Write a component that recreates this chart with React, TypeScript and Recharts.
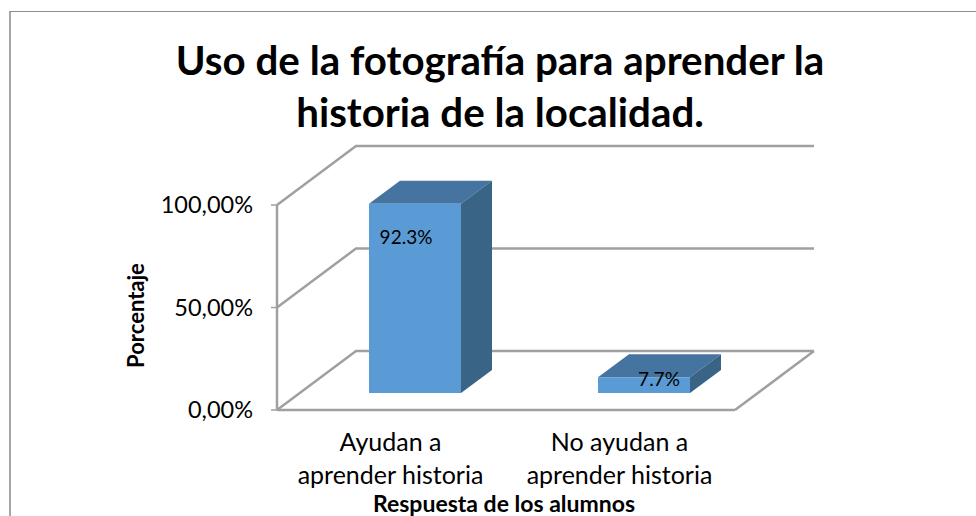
import { BarChart, Bar, XAxis, YAxis, CartesianGrid, LabelList } from "recharts";

const categories = ["Ayudan a aprender historia", "No ayudan a aprender historia"];
const shares = [0.923, 0.077];
const shareLabels = ["92.3%", "7.7%"];
const percentTicks = [0, 0.5, 1];

const data = categories.map((name, i) => ({ name, share: shares[i], label: shareLabels[i] }));

const FONT = "Lato, 'Open Sans', sans-serif";
const GREY = "#a0a0a0";
// fake 3D offsets, the walls go this far back and the bars sit halfway in
const WALL_DX = 79;
const WALL_DY = -59;
const BAR_DX = 23;
const BAR_DY = -17;
const DEPTH_DX = 31;
const DEPTH_DY = -23;
const LABEL_NUDGE = [
  { x: -9, y: 33 },
  { x: 15, y: 1 },
];

function Box3D(props: any) {
  const { x, y, width, height } = props;
  const left = x + BAR_DX;
  const right = left + width;
  const top = y + BAR_DY;
  const bottom = top + height;
  return (
    <g>
      <polygon
        points={`${left},${top} ${right},${top} ${right + DEPTH_DX},${top + DEPTH_DY} ${left + DEPTH_DX},${top + DEPTH_DY}`}
        fill="#44749f"
      />
      <polygon
        points={`${right},${top} ${right + DEPTH_DX},${top + DEPTH_DY} ${right + DEPTH_DX},${bottom + DEPTH_DY} ${right},${bottom}`}
        fill="#3a6485"
      />
      <rect x={left} y={top} width={width} height={height} fill="#5b9bd5" />
    </g>
  );
}

function WallLine(props: any) {
  const { x1, x2, y1 } = props;
  const isFloor = props.index === 0;
  return (
    <g fill="none" stroke={GREY} strokeWidth={2.5}>
      <polyline points={`${x1},${y1} ${x1 + WALL_DX},${y1 + WALL_DY} ${x2 + WALL_DX},${y1 + WALL_DY}`} />
      {isFloor && <line x1={x2} y1={y1} x2={x2 + WALL_DX} y2={y1 + WALL_DY} />}
    </g>
  );
}

function CategoryTick(props: any) {
  const { x, y, payload } = props;
  const cut = payload.value.indexOf(" aprender");
  return (
    <text x={x - 1} y={y} textAnchor="middle" fontFamily={FONT} fontSize={25} fill="#000">
      <tspan x={x - 1} dy={33}>{payload.value.slice(0, cut)}</tspan>
      <tspan x={x - 1} dy={33}>{payload.value.slice(cut + 1)}</tspan>
    </text>
  );
}

function ShareLabel(props: any) {
  const { x, y, width, value, index } = props;
  return (
    <text
      x={x + BAR_DX + width / 2 + LABEL_NUDGE[index].x}
      y={y + BAR_DY + LABEL_NUDGE[index].y}
      textAnchor="middle"
      dominantBaseline="central"
      fontFamily={FONT}
      fontSize={19}
      fill="#000"
    >
      {value}
    </text>
  );
}

const formatPercent = (v: number) => (v * 100).toFixed(2).replace(".", ",") + "%";

export default function App() {
  return (
    <div style={{ position: "absolute", left: 0, top: 0, width: 976, height: 516, background: "#fff", overflow: "hidden" }}>
      <div style={{ position: "absolute", left: 9, top: 11, width: 1000, height: 520, borderTop: "1px solid #8c8c8c", borderLeft: "2px solid #a6a6a6" }} />
      <div
        style={{
          position: "absolute",
          left: 0,
          top: 34,
          width: 1000,
          textAlign: "center",
          fontFamily: FONT,
          fontWeight: 700,
          fontSize: 40.3,
          lineHeight: "52px",
          color: "#000",
        }}
      >
        Uso de la fotografía para aprender la
        <br />
        historia de la localidad.
      </div>
      <div style={{ position: "absolute", left: 0, top: 0 }}>
        <BarChart
          width={976}
          height={516}
          data={data}
          margin={{ top: 205, right: 241, bottom: 0, left: 0 }}
          barSize={92}
        >
          <CartesianGrid horizontal={WallLine} vertical={false} />
          <XAxis
            dataKey="name"
            height={106}
            interval={0}
            tick={CategoryTick}
            tickLine={false}
            axisLine={{ stroke: GREY, strokeWidth: 2.5 }}
            label={{
              value: "Respuesta de los alumnos",
              position: "insideBottom",
              dx: -2,
              dy: 1,
              fontFamily: FONT,
              fontWeight: 700,
              fontSize: 23,
              fill: "#000",
            }}
          />
          <YAxis
            type="number"
            domain={[0, 1]}
            ticks={percentTicks}
            width={277}
            tickSize={6}
            tickMargin={18}
            tickFormatter={formatPercent}
            tick={{ fontFamily: FONT, fontSize: 23.5, fill: "#000" }}
            tickLine={{ stroke: GREY, strokeWidth: 1.5 }}
            axisLine={{ stroke: GREY, strokeWidth: 2.5 }}
            label={{
              value: "Porcentaje",
              angle: -90,
              position: "center",
              dx: -2,
              dy: 8,
              fontFamily: FONT,
              fontWeight: 700,
              fontSize: 22,
              fill: "#000",
            }}
          />
          <Bar dataKey="share" shape={Box3D} isAnimationActive={false}>
            <LabelList dataKey="label" content={ShareLabel} />
          </Bar>
        </BarChart>
      </div>
    </div>
  );
}
